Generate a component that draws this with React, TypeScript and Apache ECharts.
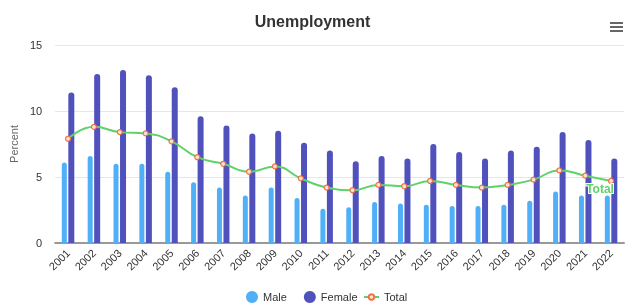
import React, { useEffect, useRef } from "react";
import * as echarts from "echarts";

const years = ["2001","2002","2003","2004","2005","2006","2007","2008","2009","2010","2011","2012","2013","2014","2015","2016","2017","2018","2019","2020","2021","2022"];
const male = [6.1, 6.6, 6.0, 6.0, 5.4, 4.6, 4.2, 3.6, 4.2, 3.4, 2.6, 2.7, 3.1, 3.0, 2.9, 2.8, 2.8, 2.9, 3.2, 3.9, 3.6, 3.6];
const female = [11.4, 12.8, 13.1, 12.7, 11.8, 9.6, 8.9, 8.3, 8.5, 7.6, 7.0, 6.2, 6.6, 6.4, 7.5, 6.9, 6.4, 7.0, 7.3, 8.4, 7.8, 6.4];
const total = [7.9, 8.8, 8.4, 8.3, 7.7, 6.5, 6.0, 5.4, 5.8, 4.9, 4.2, 4.0, 4.4, 4.3, 4.7, 4.4, 4.2, 4.4, 4.8, 5.5, 5.1, 4.7];

const FONT = "'Liberation Sans', Arial, Helvetica, sans-serif";

export default function App() {
  const ref = useRef<HTMLDivElement>(null);
  useEffect(() => {
    if (!ref.current) return;
    const chart = echarts.init(ref.current, undefined, { renderer: "svg" });
    const totalData = total.map((v, i) =>
      i === total.length - 1
        ? {
            value: v,
            label: {
              show: true,
              formatter: "Total",
              position: "bottom",
              offset: [-11, -6],
              color: "#5fd36a",
              fontWeight: "bold",
              fontSize: 12,
              fontFamily: FONT,
              textBorderColor: "#fff",
              textBorderWidth: 2,
            },
          }
        : v
    );
    chart.setOption({
      animation: false,
      textStyle: { fontFamily: FONT },
      title: {
        text: "Unemployment",
        left: "center",
        top: 8,
        textStyle: { fontSize: 16, fontWeight: "bold", color: "#333333", fontFamily: FONT },
      },
      legend: [
        {
          top: 286,
          left: 241,
          itemGap: 17,
          itemWidth: 12,
          itemHeight: 12,
          textStyle: { fontSize: 11, color: "#333333", fontFamily: FONT },
          data: [
            { name: "Male", icon: "circle" },
            { name: "Female", icon: "circle" },
          ],
        },
        {
          top: 286,
          left: 358,
          itemWidth: 15,
          itemHeight: 7,
          textStyle: { fontSize: 11, color: "#333333", fontFamily: FONT, lineHeight: 12 },
          data: [{ name: "Total" }],
        },
      ],
      grid: { left: 51, right: 1, top: 45, bottom: 61 },
      xAxis: {
        type: "category",
        data: years,
        axisLine: { lineStyle: { color: "#999999", width: 2 } },
        axisTick: { show: false },
        axisLabel: { rotate: 45, fontSize: 11, color: "#333333", margin: 8, fontFamily: FONT },
      },
      yAxis: {
        type: "value",
        min: 0,
        max: 15,
        interval: 5,
        name: "Percent",
        nameLocation: "middle",
        nameGap: 30,
        nameTextStyle: { fontSize: 11, color: "#666666", fontFamily: FONT },
        axisLabel: { fontSize: 11, color: "#333333", margin: 13, fontFamily: FONT },
        splitLine: { lineStyle: { color: "#e6e6e6" } },
      },
      series: [
        {
          name: "Male",
          type: "bar",
          data: male,
          barWidth: 5,
          barGap: "30%",
          itemStyle: { color: "#4fb0f7", borderRadius: [3, 3, 0, 0] },
        },
        {
          name: "Female",
          type: "bar",
          data: female,
          barWidth: 6,
          itemStyle: { color: "#5151bd", borderRadius: [3, 3, 0, 0] },
        },
        {
          name: "Total",
          type: "line",
          data: totalData,
          smooth: true,
          symbol: "circle",
          symbolSize: 5,
          lineStyle: { color: "#5fd36a", width: 2 },
          itemStyle: { color: "#fbe2d6", borderColor: "#f07040", borderWidth: 1.2 },
          z: 5,
        },
      ],
      graphic: [
        { type: "rect", shape: { x: 610, y: 22, width: 13, height: 2 }, style: { fill: "#666666" } },
        { type: "rect", shape: { x: 610, y: 26, width: 13, height: 2 }, style: { fill: "#666666" } },
        { type: "rect", shape: { x: 610, y: 30, width: 13, height: 2 }, style: { fill: "#666666" } },
      ],
    });
    return () => chart.dispose();
  }, []);
  return <div ref={ref} style={{ position: "fixed", left: 0, top: 0, width: 625, height: 304 }} />;
}
